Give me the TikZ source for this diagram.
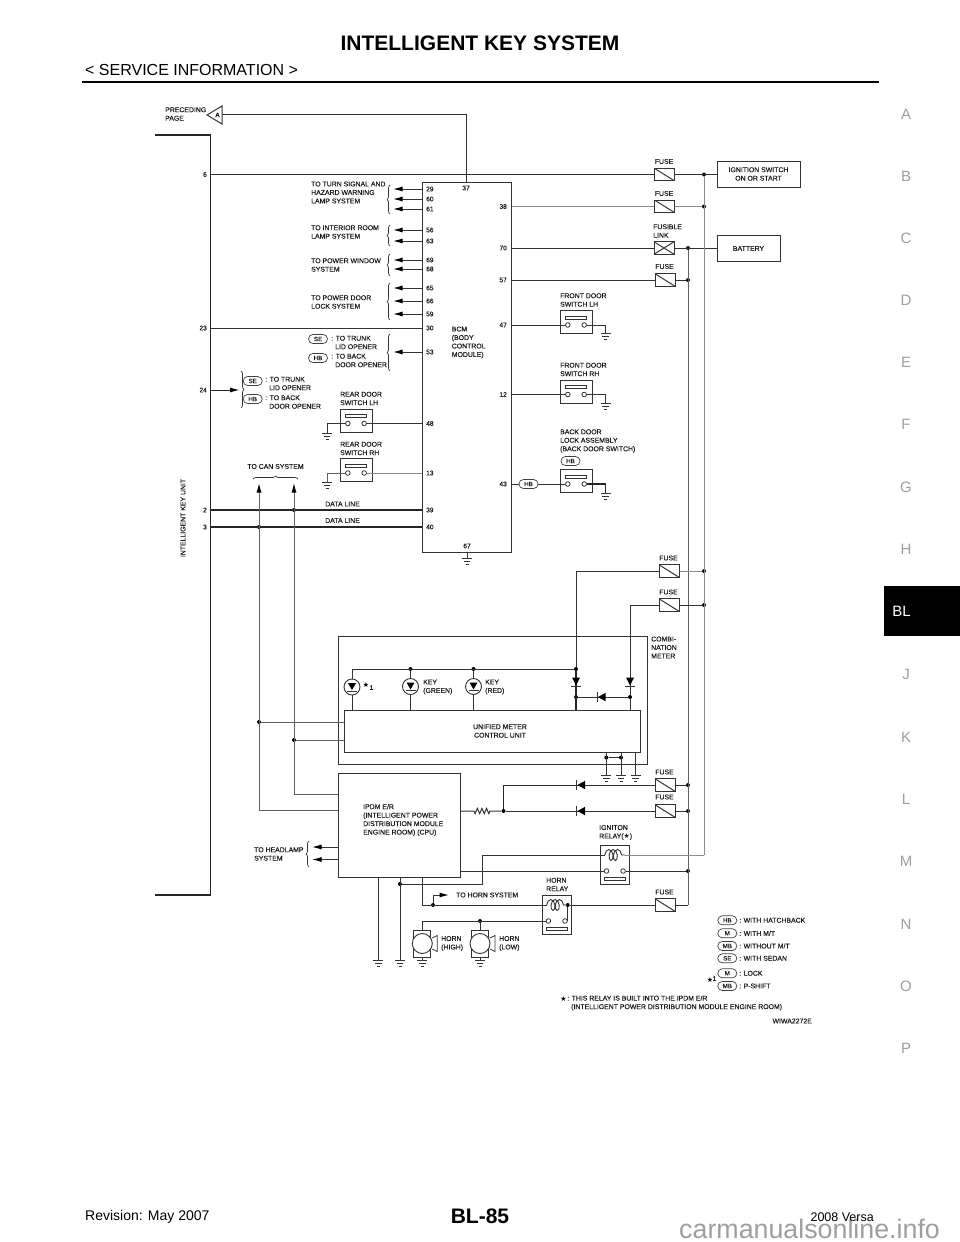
\documentclass[tikz,border=0pt]{standalone}
\usepackage{fontspec}
\setmainfont{Liberation Sans}
\newfontfamily\symfont{DejaVu Sans}
\newfontfamily\lblfont[FakeBold=0.2]{Liberation Sans}
\usetikzlibrary{calc,arrows.meta,decorations.pathreplacing,decorations.pathmorphing}

\begin{document}
\begin{tikzpicture}[
      x=1pt, y=-1pt,
      wire/.style={line width=1pt, draw=black!80},
      lwire/.style={line width=1pt, draw=black!45},
      mwire/.style={line width=1pt, draw=black!62},
      tip/.style={-{Latex[black,length=9.5pt,width=5pt]}},
      box/.style={draw=black!80, line width=1pt, inner sep=0pt, rectangle},
      lbl/.style={font=\lblfont\fontsize{6.9}{8.5}\selectfont, anchor=west, inner sep=0pt, align=left, text=black!90},
      clbl/.style={lbl, anchor=center, align=center},
      pinl/.style={lbl, font=\lblfont\fontsize{6.6}{8}\selectfont},
      pinr/.style={pinl, anchor=east},
      pinc/.style={pinl, anchor=center},
      tag/.style={draw=black!75, line width=.7pt, rounded corners=4.4pt, minimum width=19pt,
            minimum height=9pt, inner sep=0pt, font=\lblfont\fontsize{6.2}{7}\selectfont, text=black!90},
      dot/.style={circle, fill=black, inner sep=0pt, minimum size=4pt},
      cont/.style={circle, draw=black!80, line width=.8pt, fill=white, inner sep=0pt, minimum size=4.6pt},
      brc/.style={decorate, decoration={brace,amplitude=3pt}, line width=.7pt, draw=black!80},
      fuse/.style={box, minimum width=20pt, minimum height=12.5pt,
            path picture={\draw[line width=1pt,black!80] (path picture bounding box.north west) -- (path picture bounding box.south east);}},
      xfuse/.style={box, minimum width=20pt, minimum height=12.5pt,
            path picture={\draw[line width=1pt,black!80] (path picture bounding box.north west) -- (path picture bounding box.south east)
                  (path picture bounding box.south west) -- (path picture bounding box.north east);}},
      lamp/.style={circle, draw=black!80, line width=.9pt, inner sep=0pt, minimum size=16pt,
            path picture={\fill[black] ([shift={(-4,-4)}]path picture bounding box.center) -- ([shift={(4,-4)}]path picture bounding box.center)
                  -- ([shift={(0,3)}]path picture bounding box.center) -- cycle;
                  \draw[line width=.8pt,black!80] ([shift={(-5,4)}]path picture bounding box.center) -- ([shift={(5,4)}]path picture bounding box.center);}},
      side/.style={font=\fontsize{15}{15}\selectfont, text=black!38, inner sep=0pt},
      pics/gnd/.style={code={
            \coordinate (-t) at (0,0);
            \draw[line width=.9pt,black!80] (-5,0) -- (5,0) (-3.3,3) -- (3.3,3) (-1.5,6) -- (1.5,6);
      }},
      pics/doorsw/.style={code={
            \node[box, minimum width=32pt, minimum height=23pt] (-box) at (0,0) {};
            \draw[line width=.8pt,black!80] (-10.5,-6) rectangle (10.5,-3);
            \node[cont] (-a) at (-8.2,3) {};
            \node[cont] (-b) at (8.2,3) {};
      }},
      pics/relay/.style={code={
            \node[box, minimum width=29pt, minimum height=39pt] (-box) at (0,0) {};
            \coordinate (-cl) at (-10,-9.5);
            \coordinate (-cr) at (10,-9.5);
            \draw[line width=.9pt,black!80,decorate,decoration={coil,aspect=.55,segment length=4.3pt,amplitude=5.5pt}] (-cl) -- (-cr);
            \draw[line width=.8pt,black!80] (-10.5,12.5) rectangle (10.5,16);
            \node[cont] (-a) at (-8.3,6.5) {};
            \node[cont] (-b) at (8.3,6.5) {};
      }},
      pics/horn/.style={code={
            \draw[line width=.9pt,black!80] (-8.5,-13.5) rectangle (8.5,13.5);
            \draw[line width=.9pt,black!80,fill=white] (0,0) circle (10);
            \draw[line width=.8pt,black!80] (10,-5.5) -- (15,-8) -- (15,8) -- (10,5.5);
            \coordinate (-top) at (0,-13.5);
            \coordinate (-bot) at (0,13.5);
      }},
      pics/diodedn/.style={code={
            \fill[black] (-4,-4.5) -- (4,-4.5) -- (0,3.5) -- cycle;
            \draw[line width=.8pt,black!80] (-5,4.5) -- (5,4.5);
      }},
      pics/diodelt/.style={code={
            \fill[black] (4,-4.2) -- (4,4.2) -- (-3.5,0) -- cycle;
            \draw[line width=.8pt,black!80] (-4.5,-4.8) -- (-4.5,4.8);
      }}
      ]
    \useasboundingbox (0,0) rectangle (960,1242);

    \node[inner sep=0pt, font=\fontsize{21}{21}\selectfont\bfseries] (title) at (480,43) {INTELLIGENT KEY SYSTEM};
    \node[inner sep=0pt, anchor=west, font=\fontsize{16}{17}\selectfont] (subtitle) at (85,70) {< SERVICE INFORMATION >};
    \draw[line width=2.2pt] (82,82) -- (879,82);
    \foreach \ch/\y in {A/114,B/176,C/238,D/300,E/362,F/424,G/487,H/549,J/674,K/737,L/799,M/861,N/924,O/986,P/1048}
      \node[side] (side\ch) at (906,\y) {\ch};
    \fill[black] (884,586) rectangle (960,636);
    \node[inner sep=0pt, text=white, font=\fontsize{15}{15}\selectfont] (tab) at (901.5,611.5) {BL};
    \node[inner sep=0pt, anchor=west, font=\fontsize{14}{14}\selectfont] (rev) at (85,1217) {Revision: May 2007};
    \node[inner sep=0pt, font=\fontsize{21}{21}\selectfont\bfseries] (page) at (480,1216) {BL-85};
    \node[inner sep=0pt, anchor=base west, text=black!38, font=\fontsize{26.8}{27}\selectfont] (mark) at (679,1238) {carmanualsonline.info};
    \node[inner sep=0pt, anchor=east, font=\fontsize{12.5}{13}\selectfont] (model) at (874,1217) {2008 Versa};

    \node[box, minimum width=89pt, minimum height=370pt] (bcm) at (466.5,367) {};
    \node[box, minimum width=122pt, minimum height=104pt] (ipdm) at (399,825) {};
    \node[box, minimum width=308.5pt, minimum height=127.3pt] (meter) at (492.75,700.35) {};
    \node[box, minimum width=296.7pt, minimum height=42.7pt] (umc) at (492.35,731.35) {};
    \node[box, minimum width=83pt, minimum height=26pt] (ignsw) at (758.5,174) {};
    \node[box, minimum width=63.5pt, minimum height=26pt] (batt) at (748.75,248) {};

    \node[clbl] (ignswl) at (758.5,174) {IGNITION SWITCH\\ON OR START};
    \node[clbl] (battl) at (748.5,248.5) {BATTERY};
    \node[clbl] (umcl) at (500,731) {UNIFIED METER\\CONTROL UNIT};
    \node[lbl] (bcml) at (451.6,342.5) {BCM\\(BODY\\CONTROL\\MODULE)};
    \node[lbl] (ipdml) at (363,820) {IPDM E/R\\(INTELLIGENT POWER\\DISTRIBUTION MODULE\\ENGINE ROOM) (CPU)};
    \node[lbl] (metl) at (651,647.5) {COMBI-\\NATION\\METER};

    \node[lbl] (prec) at (165,114) {PRECEDING\\PAGE};
    \draw[wire, fill=white] (207,115) -- (222,106) -- (222,124) -- cycle;
    \node[inner sep=0pt, font=\lblfont\fontsize{6.5}{7}\selectfont] (triA) at (217.5,115) {A};

    \foreach \pin/\y in {29/189,60/199,61/209,56/230,63/241,69/260,68/269,65/288,66/301,59/314,53/352}{
      \node[pinl] (p\pin) at (426,\y) {\pin};
      \coordinate (e\pin) at (393,\y);
      \draw[wire,tip] (p\pin -| bcm.west) -- (e\pin);
    }
    \foreach \pin/\y in {30/328,48/423.5,13/473,39/510,40/527}
      \node[pinl] (p\pin) at (426,\y) {\pin};
    \foreach \pin/\y in {38/206.5,70/248,57/280,47/325,12/394.5,43/484}
      \node[pinr] (p\pin) at (507,\y) {\pin};
    \foreach \pin/\y in {6/174.5,23/328,24/390,2/510,3/527}{
      \node[pinr] (ik\pin) at (207,\y) {\pin};
      \coordinate (iku\pin) at (210.5,\y);
    }
    \node[pinc] (p37) at (466,188) {37};
    \node[pinc] (p67) at (467,546) {67};

    \draw[brc] (390,214) -- (390,185);
    \draw[brc] (390,246) -- (390,225);
    \draw[brc] (390,276) -- (390,254);
    \draw[brc] (390,320) -- (390,283);
    \draw[brc] (390,371) -- (390,334);
    \draw[brc] (241,371) -- (241,408);
    \draw[brc] (253,479) -- (298,479);
    \draw[brc] (309,867) -- (309,841);

    \node[lbl] (lsig) at (311,192.5) {TO TURN SIGNAL AND\\HAZARD WARNING\\LAMP SYSTEM};
    \node[lbl] (lint) at (311,232) {TO INTERIOR ROOM\\LAMP SYSTEM};
    \node[lbl] (lwin) at (311,265) {TO POWER WINDOW\\SYSTEM};
    \node[lbl] (llock) at (311,302) {TO POWER DOOR\\LOCK SYSTEM};
    \node[lbl] (lhead) at (254,854) {TO HEADLAMP\\SYSTEM};
    \node[clbl] (lcan) at (275.5,466.5) {TO CAN SYSTEM};
    \node[lbl] (ldat1) at (325,504) {DATA LINE};
    \node[lbl] (ldat2) at (325,520.5) {DATA LINE};

    \node[tag] (tse1) at (318,339) {SE};
    \node[tag] (thb1) at (318,358) {HB};
    \node[lbl] (ltr1) at (331,342.5) {: TO TRUNK\\\hspace*{4pt}LID OPENER};
    \node[lbl] (lbk1) at (331,360.5) {: TO BACK\\\hspace*{4pt}DOOR OPENER};
    \node[tag] (tse2) at (252.7,381) {SE};
    \node[tag] (thb2) at (252.7,399) {HB};
    \node[lbl] (ltr2) at (265,383.5) {: TO TRUNK\\\hspace*{4pt}LID OPENER};
    \node[lbl] (lbk2) at (265,402) {: TO BACK\\\hspace*{4pt}DOOR OPENER};

    \foreach \n/\x/\y in {1/664/161.5,2/664/193.5,3/664.5/266.5,4/668.5/558,5/668.5/592,6/664.5/772,7/664.5/797,8/664.5/892}
      \node[clbl] (lfuse\n) at (\x,\y) {FUSE};
    \node[lbl] (lfl) at (653,231) {FUSIBLE\\LINK};

    \node[fuse] (f1) at (664.3,174.5) {};
    \node[fuse] (f2) at (664.8,206.5) {};
    \node[xfuse] (f3) at (664,248) {};
    \node[fuse] (f4) at (665,280) {};
    \node[fuse] (f5) at (669,571) {};
    \node[fuse] (f6) at (669,605) {};
    \node[fuse] (f7) at (665,785) {};
    \node[fuse] (f8) at (665,811) {};
    \node[fuse] (f9) at (665,905) {};

    \foreach \d/\x/\y in {d1/704/174.5,d2/704/206.5,d3/688/248,d4/688/280,d5/704/571,d6/704/605,d7/688/785,d8/688/811,d9/688/871,
        d10/259/527,d11/294/510,d12/259/722,d13/294/740,d14/576/669,d15/576/697,d16/630/697,d17/410.5/669,d18/473.5/669,
        d19/606.3/757.5,d20/621/757.5,d21/503.5/811,d22/400/884,d23/433/905,d24/480/921,d25/567.7/905}
      \node[dot] (\d) at (\x,\y) {};

    \foreach \c/\x/\y in {a37/222/114,b37/466/182,c704/704/855,c688/688/905,cana/259/483,canb/294/483,ipa/338/810,ipb/338/794,
        c483/482.7/855,c422/422/905,ehorn/449/895,r1/471.7/811,r2/490/811,e847/312/847,e859/312/859.5,g67top/467/552,c504/503.5/785,e24/239.5/390,
        ikua/155/135,ikub/155/895}
      \coordinate (\c) at (\x,\y);

    \draw[wire] (a37) -| (b37);
    \draw[wire] (iku6) -- (f1.west);
    \draw[wire] (f1.east) -- (ignsw.west |- f1.east);
    \draw[wire] (iku23) -- (p30 -| bcm.west);
    \draw[line width=1.2pt,black!85] (iku2) -- (p39 -| bcm.west);
    \draw[line width=1.2pt,black!85] (iku3) -- (p40 -| bcm.west);
    \draw[line width=1pt,black!85,tip] (iku24) -- (e24);
    \draw[line width=1.2pt,black!85] (ikua) -| (iku6) -- (iku6 |- ikub) -- (ikub);

    \draw[lwire] (bcm.east |- p38) -- (f2.west);
    \draw[lwire] (f2.east) -- (d2);
    \draw[wire] (bcm.east |- p70) -- (f3.west);
    \draw[wire] (f3.east) -- (batt.west);
    \draw[wire] (bcm.east |- p57) -- (f4.west);
    \draw[wire] (f4.east) -- (d4);
    \draw[lwire] (d1) -- (c704);
    \draw[mwire] (d3) -- (c688);

    \pic (fl) at (576,322) {doorsw};
    \pic (fr) at (576,391.5) {doorsw};
    \pic (bd) at (576,481) {doorsw};
    \pic (rl) at (356,420.5) {doorsw};
    \pic (rr) at (356,470) {doorsw};
    \pic (g1) at (605.5,333) {gnd};
    \pic (g2) at (605.7,403.3) {gnd};
    \pic (g3) at (605.7,493.3) {gnd};
    \pic (g4) at (327,433.3) {gnd};
    \pic (g5) at (327,482) {gnd};
    \pic (g6) at (467,558.7) {gnd};
    \pic (g7) at (606.3,775.3) {gnd};
    \pic (g8) at (621,775.3) {gnd};
    \pic (g9) at (635.5,775.3) {gnd};
    \pic (g10) at (378.3,960.7) {gnd};
    \pic (g11) at (400,960.7) {gnd};
    \pic (g12) at (422.3,960.7) {gnd};
    \pic (g13) at (480,960.7) {gnd};

    \draw[wire] (bcm.east |- p47) -- (fl-a);
    \draw[wire] (fl-b) -| (g1-t);
    \draw[wire] (bcm.east |- p12) -- (fr-a);
    \draw[wire] (fr-b) -| (g2-t);
    \node[tag] (thb3) at (528.5,484) {HB};
    \draw[wire] (bcm.east |- p43) -- (thb3);
    \draw[wire] (thb3) -- (bd-a);
    \draw[line width=1.2pt,black!85] (bd-b) -| (g3-t);
    \draw[wire] (p48 -| bcm.west) -- (rl-b);
    \draw[wire] (rl-a) -| (g4-t);
    \draw[lwire] (p13 -| bcm.west) -- (rr-b);
    \draw[mwire] (rr-a) -| (g5-t);
    \draw[wire] (g67top) -- (g6-t);

    \node[lbl] (lfl2) at (560,300) {FRONT DOOR\\SWITCH LH};
    \node[lbl] (lfr2) at (560,369.5) {FRONT DOOR\\SWITCH RH};
    \node[lbl] (lbd2) at (560,441) {BACK DOOR\\LOCK ASSEMBLY\\(BACK DOOR SWITCH)};
    \node[tag] (thb4) at (570.5,461) {HB};
    \node[lbl] (lrl2) at (340,398.5) {REAR DOOR\\SWITCH LH};
    \node[lbl] (lrr2) at (340,448.5) {REAR DOOR\\SWITCH RH};

    \draw[mwire,tip] (ipa) -| (cana);
    \draw[mwire,tip] (ipb) -| (canb);
    \draw[mwire] (d12) -- (umc.west |- d12);
    \draw[mwire] (d13) -- (umc.west |- d13);

    \draw[wire] (f5.west) -| (d14);
    \draw[line width=1.2pt,black!85] (d14) -- (d15 |- umc.north);
    \draw[lwire] (f5.east) -- (d5);
    \draw[wire] (f6.west) -| (d16);
    \draw[wire] (d16) -- (d16 |- umc.north);
    \draw[wire] (f6.east) -- (d6);
    \draw[wire] (d15) -- (d16);
    \pic at (576,682) {diodedn};
    \pic at (630,682) {diodedn};
    \pic at (601.5,697) {diodelt};

    \node[lamp] (l1) at (352,687) {};
    \node[lamp] (l2) at (410.5,686.5) {};
    \node[lamp] (l3) at (473.5,686.5) {};
    \draw[wire] (l1.north) |- (d14);
    \draw[wire] (d17) -- (l2.north);
    \draw[wire] (d18) -- (l3.north);
    \draw[wire] (l1.south) -- (l1.south |- umc.north);
    \draw[wire] (l2.south) -- (l2.south |- umc.north);
    \draw[wire] (l3.south) -- (l3.south |- umc.north);
    \node[inner sep=0pt, font=\fontsize{7}{7}\selectfont\symfont] (lstar1) at (366,684.5) {★};
    \node[inner sep=0pt, font=\lblfont\fontsize{6.5}{7}\selectfont] (lsub1) at (371.5,687.5) {1};
    \node[lbl] (lgreen) at (423,687) {KEY\\(GREEN)};
    \node[lbl] (lred) at (485,687) {KEY\\(RED)};

    \draw[wire] (umc.south -| d19) -- (g7-t);
    \draw[wire] (umc.south -| d20) -- (g8-t);
    \draw[wire] (umc.south -| g9-t) -- (g9-t);
    \draw[wire] (d19) -- (d20);

    \draw[wire] (f7.east) -- (d7);
    \draw[wire] (f8.east) -- (d8);
    \draw[wire] (f7.west) -- (c504);
    \draw[line width=1.2pt,black!85] (c504) -- (d21);
    \draw[wire] (f8.west) -- (d21);
    \draw[wire] (d21) -- (r2) decorate[decoration={zigzag,amplitude=2.6pt,segment length=4.6pt}] {-- (r1)} -- (ipdm.east |- r1);
    \pic at (581,785) {diodelt};
    \pic at (581,811) {diodelt};

    \pic (ri) at (614.8,864.5) {relay};
    \pic (rh) at (556.7,914.5) {relay};
    \node[lbl] (lri) at (599,832.5) {IGNITON\\RELAY({\symfont ★})};
    \node[lbl] (lrh) at (546,884.5) {HORN\\RELAY};
    \draw[wire] (d22) -| (c483) -- (ri-cl);
    \draw[lwire] (ri-cr) -- (c704);
    \draw[wire] (ipdm.east |- ri-a) -- (ri-a);
    \draw[wire] (ri-b) -- (d9);
    \draw[wire] (ipdm.south -| c422) -- (c422) -- (rh-cl);
    \draw[wire] (rh-cr) -- (d25) -- (f9.west);
    \draw[wire] (f9.east) -- (c688);
    \draw[wire] (rh-b) -| (d25);
    \draw[wire,tip] (d23) |- (ehorn);
    \node[lbl] (lhs) at (456,895) {TO HORN SYSTEM};

    \pic (hh) at (422.3,943.5) {horn};
    \pic (hl) at (480,943.5) {horn};
    \draw[wire] (rh-a) -| (hh-top);
    \draw[wire] (d24) -- (hl-top);
    \draw[wire] (hh-bot) -- (g12-t);
    \draw[wire] (hl-bot) -- (g13-t);
    \draw[wire] (ipdm.south -| g10-t) -- (g10-t);
    \draw[wire] (ipdm.south -| g11-t) -- (g11-t);
    \node[lbl] (lhh) at (441,943.5) {HORN\\(HIGH)};
    \node[lbl] (lhl) at (499,943.5) {HORN\\(LOW)};

    \draw[wire,tip] (e847 -| ipdm.west) -- (e847);
    \draw[wire,tip] (e859 -| ipdm.west) -- (e859);

    \node[lbl, rotate=90, anchor=center] (liku) at (183,518) {INTELLIGENT KEY UNIT};

    \foreach \n/\t/\y/\s in {1/HB/920.3/{: WITH HATCHBACK},2/M/933.3/{: WITH M/T},3/MB/946/{: WITHOUT M/T},4/SE/958.3/{: WITH SEDAN},5/M/973.3/{: LOCK},6/MB/986/{: P-SHIFT}}{
      \node[tag] (key\n) at (727.3,\y) {\t};
      \node[lbl] (keyl\n) at (739,\y) {\s};
    }
    \node[inner sep=0pt, font=\fontsize{7}{7}\selectfont\symfont] (lstar2) at (710,980) {★};
    \node[inner sep=0pt, font=\lblfont\fontsize{6.5}{7}\selectfont] (lsup2) at (714.5,978.5) {1};
    \node[inner sep=0pt, font=\fontsize{7}{7}\selectfont\symfont] (lstar3) at (563.5,999) {★};
    \node[lbl] (lnote) at (567,1003) {: THIS RELAY IS BUILT INTO THE IPDM E/R\\\hspace*{4pt}(INTELLIGENT POWER DISTRIBUTION MODULE ENGINE ROOM)};
    \node[lbl, anchor=east] (lcode) at (812,1021) {WIWA2272E};
  \end{tikzpicture}
\end{document}
